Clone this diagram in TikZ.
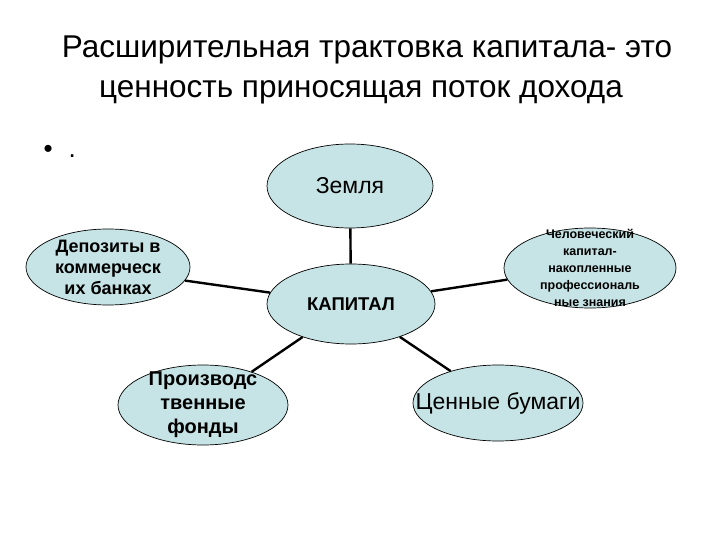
\documentclass[tikz,border=0pt]{standalone}
\usepackage{fontspec}
\setmainfont{Liberation Sans}
\usetikzlibrary{shapes.geometric}
\definecolor{blobfill}{RGB}{198,228,229}
\begin{document}
\begin{tikzpicture}[x=1pt,y=-1pt,
  blob/.style={draw=black,line width=0.7pt,fill=blobfill,ellipse,inner sep=0pt},
  link/.style={line width=2.4pt}]
\useasboundingbox (0,0) rectangle (720,540);
\node[anchor=base] (title1) at (367,58) {\fontsize{31.5}{36}\selectfont Расширительная трактовка капитала- это};
\node[anchor=base] (title2) at (361,98) {\fontsize{31.5}{36}\selectfont ценность приносящая поток дохода};
\node[anchor=base west] (item) at (40,158) {\fontsize{26}{30}\selectfont •\hspace{16pt}.};
\node[blob,minimum width=166,minimum height=84] (zem) at (350,186) {};
\node[blob,minimum width=168,minimum height=80] (kap) at (351,304) {};
\node[blob,minimum width=164,minimum height=76] (dep) at (108,267) {};
\node[blob,minimum width=172,minimum height=80] (hum) at (590,268) {};
\node[blob,minimum width=170,minimum height=80] (prod) at (203,405) {};
\node[blob,minimum width=170,minimum height=76] (ceny) at (498,403) {};
\node (zemtext) at (zem) {\fontsize{23}{27}\selectfont Земля};
\node (kaptext) at (kap) {\fontsize{18.5}{22}\selectfont\bfseries КАПИТАЛ};
\node[align=center,font=\fontsize{18}{21}\selectfont\bfseries] (deptext) at (dep) {Депозиты в\\коммерческ\\их банках};
\node[align=center,font=\fontsize{12.5}{17}\selectfont\bfseries] (humtext) at (hum) {Человеческий\\капитал-\\накопленные\\профессиональ\\ные знания};
\node[align=center,font=\fontsize{20}{24}\selectfont\bfseries] (prodtext) at (prod) {Производс\\твенные\\фонды};
\node (cenytext) at (ceny) {\fontsize{23}{27}\selectfont Ценные бумаги};
\draw[link] (zem) -- (kap);
\draw[link] (dep.-10) -- (kap.172);
\draw[link] (kap.9) -- (hum.188);
\draw[link] (kap) -- (prod);
\draw[link] (kap) -- (ceny);
\end{tikzpicture}
\end{document}
